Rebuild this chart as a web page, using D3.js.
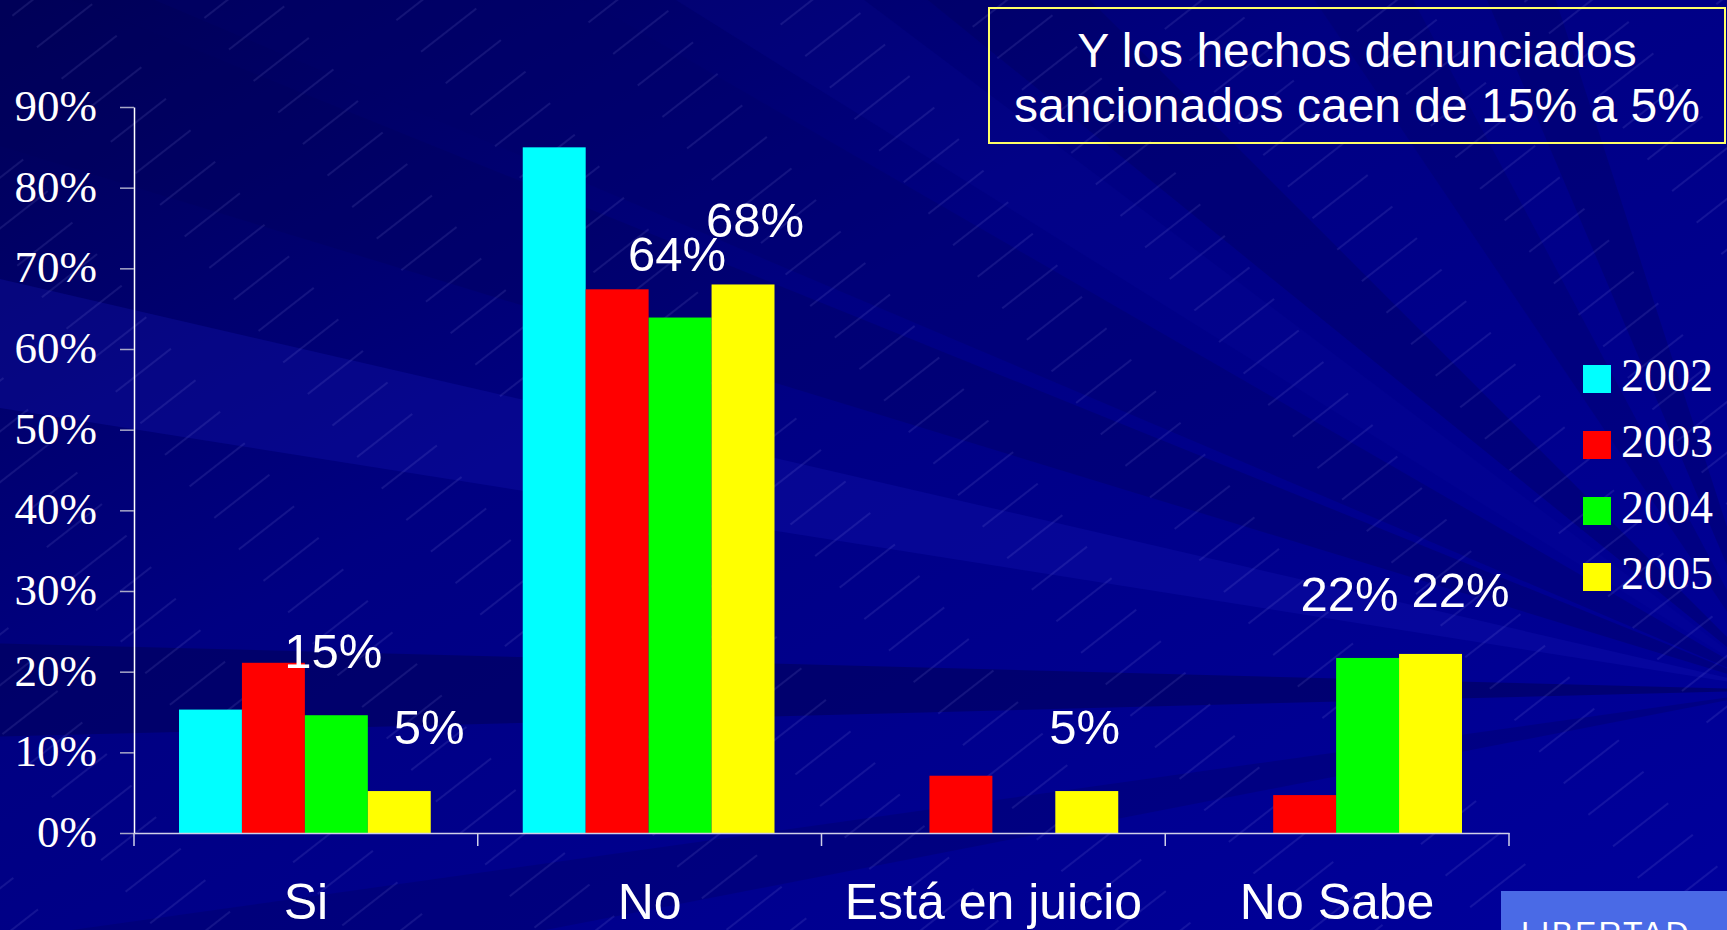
<!DOCTYPE html>
<html>
<head>
<meta charset="utf-8">
<script src="https://cdn.jsdelivr.net/npm/d3@7"></script>
<style>
  html, body { margin: 0; padding: 0; background: #00008a; overflow: hidden; }
  svg { display: block; }
</style>
</head>
<body>
<div id="chart"></div>
<script>

// ---- data ----
var categories = ["Si", "No", "Está en juicio", "No Sabe"];
var years      = ["2002", "2003", "2004", "2005"];
var colors     = ["#00ffff", "#ff0000", "#00ff00", "#ffff00"];

var v2002 = [15.3, 85.0, 0,   0   ];
var v2003 = [21.1, 67.4, 7.1, 4.7 ];
var v2004 = [14.6, 63.9, 0,   21.7];
var v2005 = [5.2,  68.0, 5.2, 22.2];

var yTicks = [0, 10, 20, 30, 40, 50, 60, 70, 80, 90];
var titleLines = ["Y los hechos denunciados", "sancionados caen de 15% a 5%"];

// which series get a value label (2004 and 2005)
var labelSeries = ["2004", "2005"];

var series = [v2002, v2003, v2004, v2005];

var W = 1727, H = 930;
var sans  = "'Liberation Sans', Arial, sans-serif";
var serif = "'Liberation Serif', 'Times New Roman', serif";

var svg = d3.select("#chart").append("svg")
  .attr("width", W)
  .attr("height", H);

//......................... Background ..........................................
var defs = svg.append("defs");

var bg = defs.append("linearGradient")
  .attr("id", "bgGrad")
  .attr("x1", "0").attr("y1", "0")
  .attr("x2", "1").attr("y2", "1");
bg.append("stop").attr("offset", "0%").attr("stop-color", "#000056");
bg.append("stop").attr("offset", "40%").attr("stop-color", "#000082");
bg.append("stop").attr("offset", "100%").attr("stop-color", "#00009c");

var hatch = defs.append("pattern")
  .attr("id", "hatch")
  .attr("patternUnits", "userSpaceOnUse")
  .attr("width", 150)
  .attr("height", 40)
  .attr("patternTransform", "rotate(-38)");
hatch.append("line")
  .attr("x1", 0).attr("y1", 20)
  .attr("x2", 70).attr("y2", 20)
  .attr("stroke", "#b8b8ff")
  .attr("stroke-opacity", 0.28)
  .attr("stroke-width", 0.8);

svg.append("rect")
  .attr("width", W).attr("height", H)
  .attr("fill", "url(#bgGrad)");

// light beams fanning out from a point off the lower right edge
var focus = [1780, 690];
var beams = [
  {a0: 178.5, a1: 181.5, c: "#000058", o: 0.55},
  {a0: 167,   a1: 171,   c: "#1414b4", o: 0.30},
  {a0: 158,   a1: 163,   c: "#00005c", o: 0.35},
  {a0: 150,   a1: 157,   c: "#00006a", o: 0.40},
  {a0: 143,   a1: 148,   c: "#1010a8", o: 0.15},
  {a0: 135,   a1: 141,   c: "#00005c", o: 0.35},
  {a0: 118,   a1: 124,   c: "#000068", o: 0.35},
  {a0: 108,   a1: 113,   c: "#000064", o: 0.40},
  {a0: 188,   a1: 191,   c: "#00005c", o: 0.30}
];
function beamPoints(b){
  var R = 2600, r0 = b.a0 * Math.PI / 180, r1 = b.a1 * Math.PI / 180;
  return [focus,
    [focus[0] + R * Math.cos(r0), focus[1] - R * Math.sin(r0)],
    [focus[0] + R * Math.cos(r1), focus[1] - R * Math.sin(r1)]
  ].map(function(p){ return p.join(","); }).join(" ");
}
svg.append("g")
  .attr("class", "beams")
  .selectAll("polygon")
  .data(beams)
  .enter()
  .append("polygon")
  .attr("points", beamPoints)
  .attr("fill", function(d){ return d.c; })
  .attr("fill-opacity", function(d){ return d.o; });

svg.append("rect")
  .attr("width", W).attr("height", H)
  .attr("fill", "url(#hatch)");
//-------------------------------------------------------------------------------


//......................... Scales .............................................
var plotLeft = 134, plotRight = 1509, plotTop = 107, plotBottom = 833;

var x0 = d3.scaleBand()
  .domain(categories)
  .range([plotLeft, plotRight]);

var x1 = d3.scaleBand()
  .domain(years)
  .range([45, x0.bandwidth() - 47]);

var y = d3.scaleLinear()
  .domain([0, 90])
  .range([plotBottom, plotTop]);

var color = d3.scaleOrdinal().domain(years).range(colors);
//-------------------------------------------------------------------------------


//......................... Bars ...............................................
var rows = categories.map(function(c, i){
  return {cat: c, vals: years.map(function(yr, j){ return {year: yr, v: series[j][i]}; })};
});

var groups = svg.append("g")
  .attr("class", "bars")
  .selectAll("g")
  .data(rows)
  .enter()
  .append("g")
  .attr("transform", function(d){ return "translate(" + x0(d.cat) + ",0)"; });

groups.selectAll("rect")
  .data(function(d){ return d.vals.filter(function(e){ return e.v > 0; }); })
  .enter()
  .append("rect")
  .attr("x", function(d){ return x1(d.year); })
  .attr("width", x1.bandwidth())
  .attr("y", function(d){ return y(d.v); })
  .attr("height", function(d){ return y(0) - y(d.v); })
  .attr("fill", function(d){ return color(d.year); });
//-------------------------------------------------------------------------------


//......................... Axes ...............................................
var yAxis = d3.axisLeft(y)
  .tickValues(yTicks)
  .tickSize(14)
  .tickSizeOuter(0)
  .tickPadding(23)
  .tickFormat(function(d){ return d + "%"; });

var gy = svg.append("g")
  .attr("class", "y-axis")
  .attr("transform", "translate(" + plotLeft + ",0)")
  .call(yAxis);
gy.select(".domain").attr("stroke", "#ffffff").attr("stroke-width", 1.5);
gy.selectAll(".tick line").attr("stroke", "#a8a8c8").attr("stroke-width", 1.5);
gy.selectAll(".tick text")
  .attr("fill", "#ffffff")
  .attr("dy", "0.3em")
  .style("font-family", serif)
  .style("font-size", "45px");

var xAxis = d3.axisBottom(x0)
  .tickSize(0)
  .tickSizeOuter(0)
  .tickPadding(0);

var gx = svg.append("g")
  .attr("class", "x-axis")
  .attr("transform", "translate(0," + plotBottom + ")")
  .call(xAxis);
gx.select(".domain").attr("stroke", "#d0d0e8").attr("stroke-width", 1.5);
gx.selectAll(".tick text")
  .attr("fill", "#ffffff")
  .attr("y", 86)
  .attr("dy", 0)
  .style("font-family", sans)
  .style("font-size", "50px");

// group separators below the axis
var bounds = categories.map(function(c){ return x0(c); }).concat([x0(categories[categories.length - 1]) + x0.bandwidth()]);
gx.selectAll(".sep")
  .data(bounds)
  .enter()
  .append("line")
  .attr("class", "sep")
  .attr("x1", function(d){ return d; })
  .attr("x2", function(d){ return d; })
  .attr("y1", 0)
  .attr("y2", 13)
  .attr("stroke", "#d0d0e8")
  .attr("stroke-width", 1.5);
//-------------------------------------------------------------------------------


//......................... Value labels .......................................
// labels were hand placed on the slide, small sideways nudges per bar
var labelNudge = {"Si|2004": -3, "Si|2005": 30, "No|2004": -3, "No|2005": 12,
                  "Está en juicio|2005": -2, "No Sabe|2004": -18, "No Sabe|2005": 30};

groups.selectAll("text.val")
  .data(function(d){
    return d.vals
      .filter(function(e){ return e.v > 0 && labelSeries.indexOf(e.year) >= 0; })
      .map(function(e){ return {cat: d.cat, year: e.year, v: e.v}; });
  })
  .enter()
  .append("text")
  .attr("class", "val")
  .attr("x", function(d){ return x1(d.year) + x1.bandwidth() / 2 + (labelNudge[d.cat + "|" + d.year] || 0); })
  .attr("y", function(d){ return y(d.v) - 47; })
  .attr("text-anchor", "middle")
  .attr("fill", "#ffffff")
  .style("font-family", sans)
  .style("font-size", "49px")
  .text(function(d){ return Math.round(d.v) + "%"; });
//-------------------------------------------------------------------------------


//......................... Legend .............................................
var legend = svg.append("g")
  .attr("class", "legend")
  .attr("transform", "translate(1583,365)");

var li = legend.selectAll("g")
  .data(years)
  .enter()
  .append("g")
  .attr("transform", function(d, i){ return "translate(0," + i * 66 + ")"; });
li.append("rect")
  .attr("width", 28).attr("height", 28)
  .attr("fill", function(d){ return color(d); });
li.append("text")
  .attr("x", 38).attr("y", 26)
  .attr("fill", "#ffffff")
  .style("font-family", serif)
  .style("font-size", "46px")
  .text(function(d){ return d; });
//-------------------------------------------------------------------------------


//......................... Title box ..........................................
var title = svg.append("g").attr("class", "title");
title.append("rect")
  .attr("x", 989).attr("y", 8)
  .attr("width", 736).attr("height", 135)
  .attr("fill", "none")
  .attr("stroke", "#ffff66")
  .attr("stroke-width", 2);
title.selectAll("text")
  .data(titleLines)
  .enter()
  .append("text")
  .attr("x", 1357)
  .attr("y", function(d, i){ return 67 + i * 55; })
  .attr("text-anchor", "middle")
  .attr("fill", "#ffffff")
  .style("font-family", sans)
  .style("font-size", "48px")
  .text(function(d){ return d; });
//-------------------------------------------------------------------------------


// logo strip in the corner, mostly cut off as on the slide
var logo = svg.append("g").attr("class", "logo");
logo.append("rect")
  .attr("x", 1501).attr("y", 891)
  .attr("width", 230).attr("height", 45)
  .attr("fill", "#4a6ae6");
logo.append("text")
  .attr("x", 1521).attr("y", 944)
  .attr("fill", "#ffffff")
  .style("font-family", sans)
  .style("font-size", "32px")
  .style("letter-spacing", "2px")
  .text("LIBERTAD");

</script>
</body>
</html>
